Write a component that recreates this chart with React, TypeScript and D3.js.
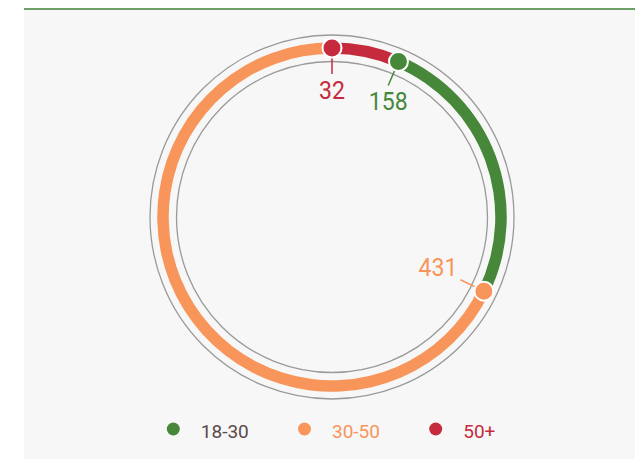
import React from "react";
import * as d3 from "d3";

const categories = ["18-30", "30-50", "50+"];
const values = [158, 431, 32];
const colors = ["#46873a", "#f7955a", "#c52a3d"];
const legendTextColors = ["#5a4a4a", "#f7955a", "#c52a3d"];

const W = 640;
const H = 459;
const cx = 332;
const cy = 217;
const ringR = 169;
const ringW = 11.5;
const outerGuide = 182;
const innerGuide = 155.5;
const dotR = 9.5;
const lineEndR = 143;
const labelSize = 26.5;

export default function App() {
  const idx = categories.map((_, i) => i);
  const pie = d3
    .pie<number>()
    .value((i) => values[i])
    .sort((a, b) => values[a] - values[b])
    .padAngle(0.095);
  const slices = pie(idx);
  const arc = d3
    .arc<any>()
    .innerRadius(ringR - ringW / 2)
    .outerRadius(ringR + ringW / 2);

  const pt = (a: number, r: number): [number, number] => [
    cx + r * Math.sin(a),
    cy - r * Math.cos(a),
  ];

  const legendX = d3.scaleLinear().domain([0, 1]).range([173.3, 304.5]);

  return (
    <svg
      width={W}
      height={H}
      style={{ position: "absolute", left: 0, top: 0, background: "#ffffff" }}
    >
      <rect x={24} y={8} width={611} height={H - 8} fill="#f7f7f7" />
      <line x1={24} x2={635} y1={9} y2={9} stroke="#6f9f69" strokeWidth={2} />
      <circle cx={cx} cy={cy} r={outerGuide} fill="none" stroke="#9a9a9a" strokeWidth={1.3} />
      <circle cx={cx} cy={cy} r={innerGuide} fill="none" stroke="#9a9a9a" strokeWidth={1.3} />
      {slices.map((s) => (
        <path
          key={"a" + s.data}
          transform={`translate(${cx},${cy})`}
          d={arc({ startAngle: s.startAngle, endAngle: s.endAngle }) || ""}
          fill={colors[s.data]}
        />
      ))}
      {slices.map((s) => {
        const a = s.startAngle;
        const [dx, dy] = pt(a, ringR);
        const [lx, ly] = pt(a, lineEndR);
        const txt = String(values[s.data]);
        const hw = (txt.length * 0.49 * labelSize) / 2;
        const hh = 9.5;
        const sn = Math.sin(a);
        const cs = Math.cos(a);
        let tx: number;
        let ty: number;
        if (Math.abs(sn) < 0.6) {
          tx = lx;
          ty = ly + Math.sign(cs) * (hh + 6);
        } else {
          tx = lx - Math.sign(sn) * (hw + 3);
          ty = ly + Math.sign(cs) * (hh + 3);
        }
        return (
          <g key={"d" + s.data}>
            <line x1={dx} y1={dy} x2={lx} y2={ly} stroke={colors[s.data]} strokeWidth={1.5} />
            <circle cx={dx} cy={dy} r={dotR} fill={colors[s.data]} stroke="#ffffff" strokeWidth={2} />
            <text
              transform={`translate(${tx},${ty}) scale(0.87,1)`}
              textAnchor="middle"
              dominantBaseline="central"
              fontFamily="Roboto, sans-serif"
              fontSize={labelSize}
              fill={colors[s.data]}
            >
              {txt}
            </text>
          </g>
        );
      })}
      {categories.map((c, i) => (
        <g key={"l" + c} transform={`translate(${legendX(i)},429)`}>
          <circle cx={0} cy={0} r={6.5} fill={colors[i]} />
          <text
            x={27.5}
            y={8.7}
            fontFamily="Roboto, sans-serif"
            fontSize={19}
            fill={legendTextColors[i]}
          >
            {c}
          </text>
        </g>
      ))}
    </svg>
  );
}
